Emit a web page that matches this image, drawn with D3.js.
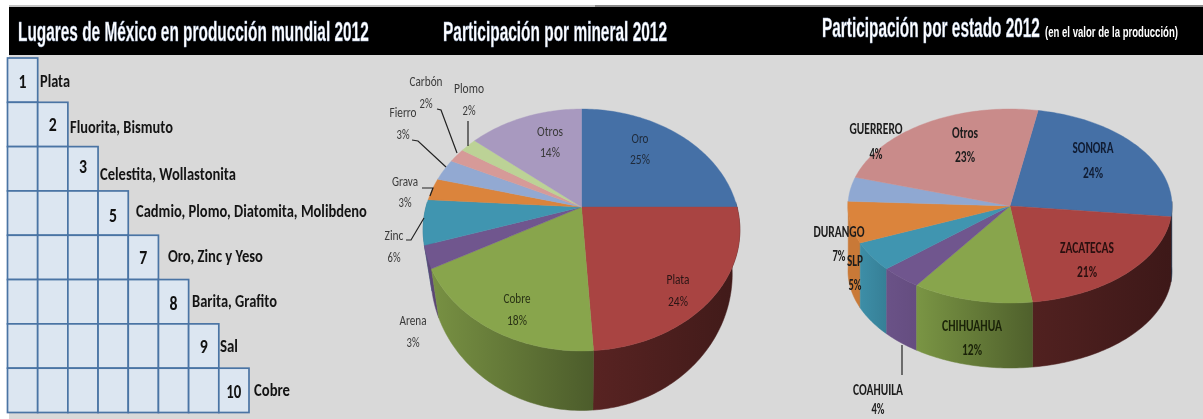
<!DOCTYPE html>
<html><head><meta charset="utf-8">
<script src="https://cdn.jsdelivr.net/npm/d3@7/dist/d3.min.js"></script>
<style>html,body{margin:0;padding:0;background:#fff;overflow:hidden}svg{display:block;filter:blur(.45px)}</style>
</head><body><svg id="c" width="1203" height="419"></svg>
<script>
// ---- data ----
const headers = ["Lugares de México en producción mundial 2012","Participación por mineral 2012","Participación por estado 2012"];
const headerNote = "(en el valor de la producción)";
const ranks = [1,2,3,5,7,8,9,10];
const rankMinerals = ["Plata","Fluorita, Bismuto","Celestita, Wollastonita","Cadmio, Plomo, Diatomita, Molibdeno","Oro, Zinc y Yeso","Barita, Grafito","Sal","Cobre"];
const minerals = ["Oro","Plata","Cobre","Arena","Zinc","Grava","Fierro","Carbón","Plomo","Otros"];
const mineralShare = [25,24,18,3,6,3,3,2,2,14];
const states = ["SONORA","ZACATECAS","CHIHUAHUA","COAHUILA","SLP","DURANGO","GUERRERO","Otros"];
const stateShare = [24,21,12,4,5,7,4,23];

// ---- styles / layout ----
const palette1 = ["#4570a6","#a94442","#88a54c","#70568e","#4095b0","#db843c","#92a9d2","#d69a98","#bcd296","#a899bf"];
const palette2 = ["#4570a6","#a94442","#88a54c","#70568e","#4095b0","#db843c","#8fa8d2","#c98b8a"];
const wallShade1 = [[.5,.4],[.52,.38],[.88,.56],[.85,.8],[.8,.8],[.8,.8],[.8,.8],[.8,.8],[.8,.8],[.8,.8]];
const wallShade2 = [[.5,.4],[.48,.36],[.9,.58],[.95,.9],[.95,.85],[.92,.92],[.8,.8],[.8,.8]];
const narrow = "'Liberation Sans Narrow','Liberation Sans',sans-serif";
const body = "Carlito,Lato,'Open Sans',sans-serif";
const svg = d3.select("#c");
const defs = svg.append("defs");

// page background
svg.append("rect").attr("x",9).attr("y",6).attr("width",1194).attr("height",413).attr("fill","#d9d9d9");
svg.append("rect").attr("x",9).attr("y",7).attr("width",1194).attr("height",48).attr("fill","#000");
svg.append("rect").attr("x",9).attr("y",5).attr("width",586).attr("height",2).attr("fill","#c4c4c4");
svg.append("rect").attr("x",595).attr("y",5).attr("width",608).attr("height",2).attr("fill","#8a8a8a");

// place text at (x,y), squeezed horizontally to width w
function fit(sel,x,y,w){
  const n=sel.node().getComputedTextLength();
  sel.attr("transform",`translate(${x},${y}) scale(${w/n},1)`);
  return sel;
}
const hdr = (t,x,y,w,fs)=>fit(svg.append("text").attr("fill","#fff")
  .attr("font-family",narrow).attr("font-weight","bold").attr("font-size",fs)
  .attr("stroke","#a8bcdc").attr("stroke-width",.5).text(t),x,y,w);
hdr(headers[0],18,41,351,28);
hdr(headers[1],443,41,224,28);
hdr(headers[2],822,37,218,28);
fit(svg.append("text").attr("fill","#fff").attr("font-family",narrow)
  .attr("font-weight","bold").attr("font-size",15).text(headerNote),1045,37,133);

// ---- staircase table ----
const colX = d3.scaleLinear().domain([0,8]).range([7.5,249]);
const rowY = d3.scaleLinear().domain([0,8]).range([58,412.5]);
const table = svg.append("g");
const rankDy = [1,-1,-3,2,0,1,0,1];
const rankW = [8,8,8,8,8,8,8,15];
ranks.forEach((r,i)=>{
  d3.range(i+1).forEach(j=>{
    table.append("rect").attr("x",colX(j)).attr("y",rowY(i))
      .attr("width",colX(1)-colX(0)).attr("height",rowY(1)-rowY(0))
      .attr("fill","#dce6f1").attr("stroke","#4a74a4").attr("stroke-width",1.7);
  });
  fit(table.append("text").attr("dy",".36em").attr("text-anchor","middle").attr("font-family",body)
    .attr("font-weight","bold").attr("font-size",20).attr("fill","#111").text(r),
    colX(i)+15,rowY(i)+22+rankDy[i],rankW[i]);
});
const rankLabelX = [40,70,100,136,168,192,220,254];
const rankLabelY = [81,127,174,211,256,301,346,390];
const rankLabelW = [30,103,136,231,95,85,18,36];
rankMinerals.forEach((t,i)=>{
  fit(table.append("text").attr("dy",".36em").attr("font-family",body).attr("font-weight","bold")
    .attr("font-size",17).attr("fill","#141414").text(t),rankLabelX[i],rankLabelY[i],rankLabelW[i]);
});

// ---- projected 3D pie ----
function pie3d(cfg){
  const arcs = d3.pie().sort(null).startAngle(cfg.start).endAngle(cfg.start+2*Math.PI)(cfg.values);
  const top = a=>{const u=Math.sin(a),v=-Math.cos(a),w=1-cfg.p*v;return [cfg.cx+cfg.rx*u/w,cfg.cy+cfg.ry*v/w];};
  const bot = a=>{const u=Math.sin(a),v=-Math.cos(a),w=1-cfg.p2*v;return [cfg.cx+cfg.rx2*u/w,cfg.cy2+cfg.ry2*v/w];};
  const samp = d=>{const n=Math.max(2,Math.ceil((d.endAngle-d.startAngle)/.02));return d3.range(n+1).map(k=>d.startAngle+(d.endAngle-d.startAngle)*k/n);};
  const line = d3.line();
  const g = svg.append("g");
  const order = arcs.map((d,i)=>i).sort((a,b)=>{
    const m=d=>-Math.cos((d.startAngle+d.endAngle)/2);return m(arcs[a])-m(arcs[b]);});
  order.forEach(i=>{
    const d=arcs[i], as=samp(d).filter(a=>-Math.cos(a)>-.05);
    if(as.length<2) return;
    const pts=as.map(top).concat(as.slice().reverse().map(bot));
    const ext=d3.extent(pts,p=>p[0]);
    const id=cfg.id+"w"+i, c=d3.rgb(cfg.colors[i]);
    const gr=defs.append("linearGradient").attr("id",id).attr("gradientUnits","userSpaceOnUse")
      .attr("x1",ext[0]).attr("x2",ext[1]).attr("y1",0).attr("y2",0);
    const sh=cfg.shade[i];
    const tone=k=>d3.rgb(c.r*k,c.g*k,c.b*k).formatHex();
    gr.append("stop").attr("offset",0).attr("stop-color",tone(sh[0]));
    gr.append("stop").attr("offset",1).attr("stop-color",tone(sh[1]));
    g.append("path").attr("d",line(pts)+"Z").attr("fill",`url(#${id})`).attr("stroke",`url(#${id})`).attr("stroke-width",.5);
  });
  arcs.forEach((d,i)=>{
    const pts=[[cfg.cx,cfg.cy]].concat(samp(d).map(top));
    g.append("path").attr("d",line(pts)+"Z").attr("fill",cfg.colors[i]).attr("stroke",cfg.colors[i]).attr("stroke-width",.4);
  });
  cfg.leaders.forEach(l=>g.append("path").attr("d",line(l)).attr("fill","none").attr("stroke","#222").attr("stroke-width",1.2));
  cfg.labels.forEach((t,i)=>{
    const lp=cfg.labelPos[i];
    const mk=()=>g.append("text").attr("font-family",cfg.font).attr("font-weight",cfg.weight).attr("font-size",cfg.fs)
      .attr("fill",lp[3]||cfg.ink).attr("text-anchor","middle").attr("dy",".36em");
    fit(mk().text(t),lp[0],lp[1],cfg.labelW[i]);
    const pct=cfg.values[i]+"%";
    fit(mk().text(pct),lp[0],lp[2],pct.length>2?20:13);
  });
}

pie3d({id:"a",values:mineralShare,labels:minerals,colors:palette1,shade:wallShade1,start:0,
  cx:581.5,cy:207,rx:155.5,ry:116.6,p:.19,
  cy2:248,rx2:148,ry2:131.6,p2:.19,
  font:body,weight:"normal",fs:15,ink:"#3a3a3a",
  labelW:[17,23,27,27,19,26,27,33,30,26],
  labelPos:[[640,138,159,"#1f2a3a"],[678,279,301,"#2a1515"],[517,298,320,"#2a3315"],[413,320,342],[394,235,257],[405,181,202],[403,112,134],[426,81,103],[469,88,110],[550,131,152]],
  leaders:[[[468,121],[468,146]],[[437,109],[441,110],[457,153]],[[412,140],[418,141],[446,167]],[[422,188],[433,188],[430,196]],[[406,240],[411,240],[424,218]]]
});
pie3d({id:"b",values:stateShare,labels:states,colors:palette2,shade:wallShade2,start:10*Math.PI/180,
  cx:1010,cy:206,rx:162,ry:97,p:0,
  cy2:271,rx2:162,ry2:97,p2:0,
  font:body,weight:"bold",fs:15,ink:"#1c1c1c",
  labelW:[41,54,60,50,16,51,53,26],
  labelPos:[[1093,148,173,"#101c33"],[1087,248,272,"#2a0f0f"],[972,326,350,"#1a2208"],[878,390,409],[855,261,285],[839,232,256],[876,129,154],[965,133,157]],
  leaders:[[[902,345],[902,375]]]
});
</script></body></html>
